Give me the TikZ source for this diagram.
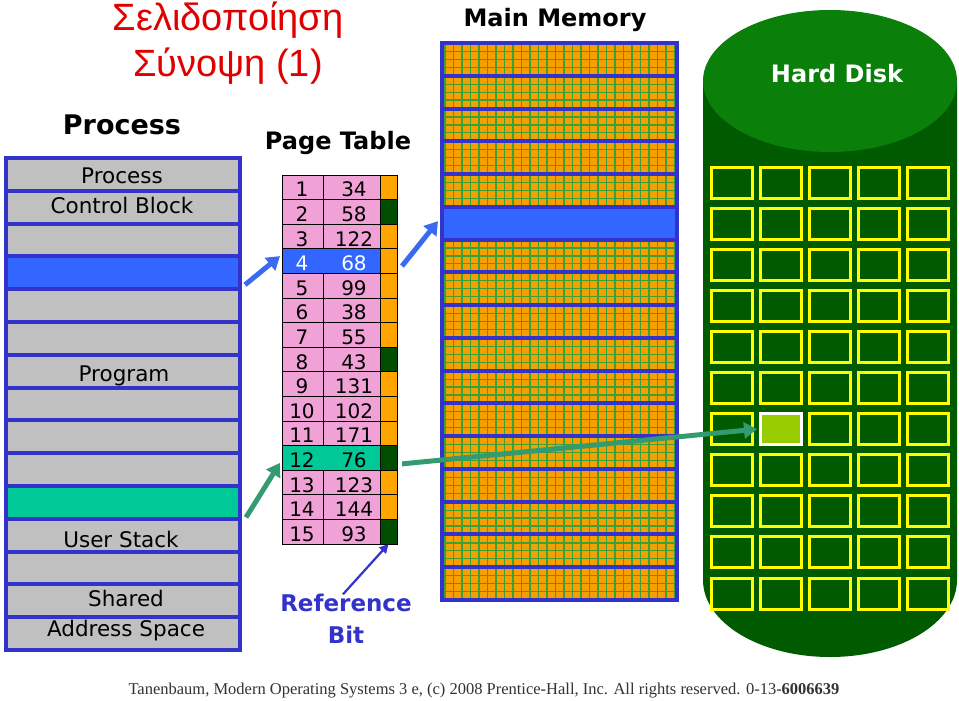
\documentclass[tikz,border=0pt]{standalone}
\usepackage{fontspec}
\setmainfont{DejaVu Sans}
\newfontfamily\titlefont{Liberation Sans}
\newfontfamily\creditfont{Liberation Serif}
\usetikzlibrary{positioning, arrows.meta}

\definecolor{rowgray}{HTML}{C0C0C0}
\definecolor{edgeblue}{HTML}{3333CC}
\definecolor{hiblue}{HTML}{3366FF}
\definecolor{hiteal}{HTML}{00C896}
\definecolor{ptpink}{HTML}{F0A2D6}
\definecolor{bitorange}{HTML}{FFA500}
\definecolor{bitgreen}{HTML}{004D00}
\definecolor{memorange}{HTML}{F5A000}
\definecolor{memgreen}{HTML}{3AA03A}
\definecolor{diskbody}{HTML}{005A00}
\definecolor{disktop}{HTML}{0A800A}
\definecolor{blockyellow}{HTML}{FFFF00}
\definecolor{pickgreen}{HTML}{99CC00}
\definecolor{arrowblue}{HTML}{3A6AF0}
\definecolor{arrowgreen}{HTML}{349A70}
\definecolor{titlered}{HTML}{E00000}

\begin{document}
\begin{tikzpicture}[x = 1pt, y = -1pt,
    every node/.style = { inner sep = 0pt, outer sep = 0pt },
    procrow/.style = { draw = edgeblue, line width = 4pt, minimum width = 234pt, minimum height = 32.8pt },
    proclabel/.style = { align = center, font = \fontsize{21.5}{30}\selectfont },
    heading/.style = { font = \fontsize{24}{24}\selectfont\bfseries },
    ptrow/.style = { draw = black, line width = .8pt, minimum width = 98pt, minimum height = 24.6pt },
    ptbit/.style = { draw = black, line width = .8pt, minimum width = 17pt, minimum height = 24.6pt },
    ptnum/.style = { font = \fontsize{20}{20}\selectfont },
    memband/.style = { draw = edgeblue, line width = 4pt, minimum width = 235pt, minimum height = 32.76pt },
    memgrid/.style = { memgreen, line width = 1.2pt },
    diskblock/.style = { draw = blockyellow, line width = 3pt, minimum width = 41pt, minimum height = 31pt },
    bigarrow/.style = { line width = 5pt, -{Triangle[length = 13pt, width = 16pt]} },
    refarrow/.style = { edgeblue, line width = 2.2pt, -{Triangle[length = 9pt, width = 9pt]} }
  ]
  \useasboundingbox (0,0) rectangle (959,701);
  \fill[white] (0,0) rectangle (959,701);

  % title
  \node[align = center, text = titlered, font = \titlefont\fontsize{38}{46}\selectfont] (ttl) at (228,43) {Σελιδοποίηση\\Σύνοψη (1)};

  % process
  \node[heading, font = \fontsize{27}{27}\selectfont\bfseries] (proc) at (122,125) {Process};
  \foreach \i/\c in {1/rowgray, 2/rowgray, 3/rowgray, 4/hiblue, 5/rowgray, 6/rowgray, 7/rowgray, 8/rowgray,
                     9/rowgray, 10/rowgray, 11/hiteal, 12/rowgray, 13/rowgray, 14/rowgray, 15/rowgray}
    \node[procrow, fill = \c] (prow\i) at (123, 141.6 + \i*32.8) {};
  \node[proclabel] (pcb) at (122,191) {Process\\Control Block};
  \node[proclabel] (prog) at (124,376) {Program};
  \node[proclabel] (ustack) at (121,539) {User Stack};
  \node[proclabel] (shared) at (126,616) {Shared\\Address Space};

  % page table
  \node[heading] (ptable) at (338,143) {Page Table};
  \foreach \n/\f/\c/\t/\d/\b in {1/34/ptpink/black/black/bitorange, 2/58/ptpink/black/black/bitgreen,
      3/122/ptpink/black/black/bitorange, 4/68/hiblue/white/hiblue/bitorange,
      5/99/ptpink/black/black/bitorange, 6/38/ptpink/black/black/bitorange,
      7/55/ptpink/black/black/bitorange, 8/43/ptpink/black/black/bitgreen,
      9/131/ptpink/black/black/bitorange, 10/102/ptpink/black/black/bitorange,
      11/171/ptpink/black/black/bitorange, 12/76/hiteal/black/hiteal/bitgreen,
      13/123/ptpink/black/black/bitorange, 14/144/ptpink/black/black/bitorange,
      15/93/ptpink/black/black/bitgreen}
  {
    \node[ptrow, fill = \c] (pt\n) at (331, 162.7 + \n*24.6) {};
    \draw[\d, line width = .8pt] (323, 150.8 + \n*24.6) -- (323, 174.6 + \n*24.6);
    \node[ptbit, fill = \b] (bit\n) at (388.5, 162.7 + \n*24.6) {};
    \node[ptnum, text = \t] (pg\n) at (302, 165 + \n*24.6) {\n};
    \node[ptnum, text = \t] (fr\n) at (354, 165 + \n*24.6) {\f};
  }

  % main memory
  \node[heading] (mmem) at (555,20) {Main Memory};
  \fill[memorange] (441,43) rectangle (678,600);
  \foreach \x in {445, 453.5, ..., 678}
    \draw[memgrid] (\x,43) -- (\x,600);
  \foreach \i in {0,...,16} {
    \foreach \o in {8.5, 16.4, 24.3}
      \draw[memgrid] (441, 43 + \i*32.76 + \o) -- (678, 43 + \i*32.76 + \o);
    \node[memband] (mem\i) at (559.5, 59.38 + \i*32.76) {};
  }
  \node[memband, fill = hiblue] (memhit) at (mem5) {};

  % hard disk
  \fill[diskbody] (703,81) -- (703,580) arc[start angle = 180, end angle = 360, x radius = 127pt, y radius = 77pt] -- (957,81) -- cycle;
  \fill[disktop] (830,81) ellipse [x radius = 127pt, y radius = 71pt];
  \node[heading, text = white] (hdisk) at (837,74) {Hard Disk};
  \foreach \r in {0,...,10}
    \foreach \c in {0,...,4}
      \node[diskblock] (blk-\r-\c) at (731.5 + \c*49, 182.5 + \r*41.1) {};
  \node[diskblock, draw = white, fill = pickgreen] (blkhit) at (blk-6-1) {};

  % arrows
  \draw[bigarrow, arrowblue] ([shift = {(5,12)}]prow4.east) -- ([shift = {(-2,-5)}]pt4.west);
  \draw[bigarrow, arrowblue] ([shift = {(5,5)}]bit4.east) -- ([shift = {(-4,-2)}]memhit.west);
  \draw[bigarrow, arrowgreen] ([shift = {(6,15)}]prow11.east) -- ([shift = {(-2,5)}]pt12.west);
  \draw[bigarrow, arrowgreen] ([shift = {(5,6)}]bit12.east) -- ([shift = {(-3,0)}]blkhit.west);

  % reference bit
  \node[align = center, text = edgeblue, font = \fontsize{23}{32}\selectfont\bfseries] (refbit) at (346,619) {Reference\\Bit};
  \draw[refarrow] ([xshift = -3pt]refbit.north) -- (bit15.south);

  \node[text = black!80, font = \creditfont\fontsize{16.5}{17}\selectfont] (credit) at (484,691)
    {Tanenbaum, Modern Operating Systems 3 e, (c) 2008 Prentice-Hall, Inc. All rights reserved. 0-13-\textbf{6006639}};
\end{tikzpicture}
\end{document}
